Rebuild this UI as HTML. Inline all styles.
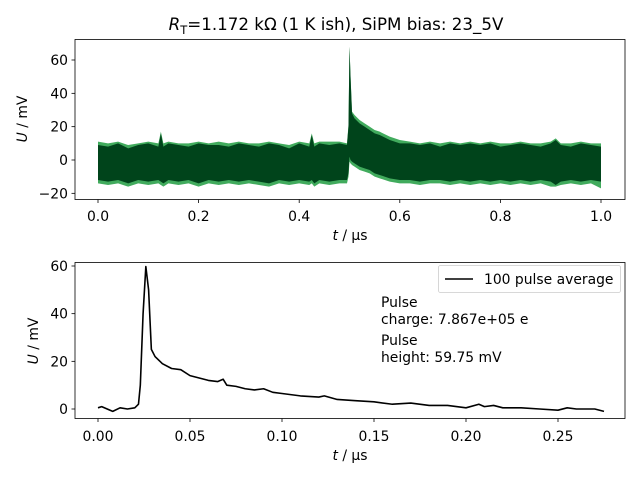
<!DOCTYPE html>
<html><head><meta charset="utf-8">
<style>
body{margin:0;background:#fff;}
svg{display:block;font-family:"DejaVu Sans","Liberation Sans",sans-serif;}
</style></head>
<body>
<svg id="c" width="640" height="480" viewBox="0 0 640 480">
<rect width="640" height="480" fill="#fff"/>
<text x="336" y="30" font-size="16.7" text-anchor="middle"><tspan font-style="italic">R</tspan><tspan font-size="11.5" dy="4">T</tspan><tspan dy="-4">=1.172 kΩ (1 K ish), SiPM bias: 23_5V</tspan></text>
<g id="topPanel"></g>
<g id="botPanel"></g>
</svg>
<script>
// top panel data (envelopes of overlaid traces)
const tTop=[0,0.02,0.04,0.06,0.08,0.1,0.12,0.125,0.13,0.14,0.16,0.18,0.2,0.22,0.24,0.26,0.28,0.3,0.32,0.34,0.36,0.38,0.4,0.42,0.425,0.43,0.44,0.46,0.48,0.495,0.498,0.5,0.502,0.505,0.51,0.52,0.53,0.54,0.55,0.56,0.58,0.6,0.62,0.64,0.66,0.68,0.7,0.72,0.74,0.76,0.78,0.8,0.82,0.84,0.86,0.88,0.9,0.91,0.92,0.94,0.96,0.98,1.0];
const upperTop=[9,8,10,7,9,10,8,16,8,10,9,8,10,9,9,8,10,9,8,10,9,7,10,8,15,8,10,9,10,9,20,68,50,28,25,22,20,18,16,15,12,10,10,9,10,8,10,9,10,9,10,8,9,10,9,8,10,12,9,8,10,9,8];
const lowerTop=[-12,-13,-12,-14,-12,-13,-12,-13,-14,-12,-13,-12,-14,-12,-13,-12,-13,-12,-13,-14,-12,-13,-12,-13,-12,-14,-12,-13,-12,-12,-8,2,0,-1,-2,-4,-5,-6,-8,-9,-11,-12,-12,-13,-12,-12,-13,-12,-13,-12,-13,-12,-13,-12,-13,-12,-13,-15,-13,-12,-13,-12,-13];
const lightUpperTop=[11,10,11,9,10,11,10,17,10,11,10,10,11,10,11,10,11,10,10,11,10,9,11,10,16,10,11,11,11,10,21,68,51,29,27,24,22,20,18,17,14,12,11,10,11,10,11,10,11,10,11,10,10,11,10,10,11,13,10,10,11,10,10];
const lightLowerTop=[-14,-15,-14,-16,-14,-15,-14,-15,-16,-14,-15,-14,-16,-14,-15,-14,-15,-14,-15,-16,-14,-15,-14,-15,-14,-16,-14,-15,-14,-14,-10,-1,-2,-3,-4,-6,-7,-8,-10,-11,-13,-14,-14,-15,-14,-14,-15,-14,-15,-14,-15,-14,-15,-14,-15,-14,-16,-16,-15,-14,-15,-14,-17];
const xTicksTop=[0,0.2,0.4,0.6,0.8,1.0];
const xTickLabelsTop=["0.0","0.2","0.4","0.6","0.8","1.0"];
const yTicksTop=[-20,0,20,40,60];
// bottom panel data
const tAvg=[0,0.002,0.005,0.008,0.012,0.016,0.02,0.022,0.023,0.0245,0.026,0.0275,0.029,0.031,0.035,0.04,0.045,0.05,0.055,0.06,0.065,0.068,0.07,0.075,0.08,0.085,0.09,0.095,0.1,0.11,0.12,0.123,0.13,0.14,0.15,0.16,0.17,0.18,0.19,0.2,0.207,0.21,0.215,0.22,0.23,0.24,0.25,0.255,0.26,0.27,0.275];
const uAvg=[0.5,1,0,-1,0.5,0,0.5,2,10,40,59.75,50,25,22,19,17,16.5,14,13,12,11.5,12.5,10,9.5,8.5,8,8.5,7,6.5,5.5,5,5.5,4,3.5,3,2,2.5,1.5,1.5,0.5,2,1,1.5,0.5,0.5,0,-0.5,0.5,0,0,-1];
const xTicksBot=[0,0.05,0.1,0.15,0.2,0.25];
const xTickLabelsBot=["0.00","0.05","0.10","0.15","0.20","0.25"];
const yTicksBot=[0,20,40,60];

const NS="http://www.w3.org/2000/svg";
const FS=13.9;
function mk(tag,attrs,parent){const e=document.createElementNS(NS,tag);for(const k in attrs)e.setAttribute(k,attrs[k]);parent.appendChild(e);return e;}

// top axes
const topG=document.getElementById('topPanel');
const xT=v=>98+v*503, yT=v=>160-v*(100/60);
function band(up,lo){
  let d='M'+tTop.map((tt,i)=>xT(tt)+','+yT(up[i])).join('L');
  for(let i=tTop.length-1;i>=0;i--)d+='L'+xT(tTop[i])+','+yT(lo[i]);
  return d+'Z';
}
let p=mk('path',{d:band(lightUpperTop,lightLowerTop),fill:'#41ab5d'},topG);


p=mk('path',{d:band(upperTop,lowerTop),fill:'#00441b'},topG);


mk('rect',{x:75,y:39.5,width:550,height:160,fill:'none',stroke:'#000','stroke-width':0.8},topG);
xTicksTop.forEach((v,i)=>{
  mk('line',{x1:xT(v),x2:xT(v),y1:199.5,y2:203,stroke:'#000','stroke-width':0.8},topG);
  const tx=mk('text',{x:xT(v),y:221,'font-size':FS,'text-anchor':'middle'},topG);tx.textContent=xTickLabelsTop[i];
  
  
});
yTicksTop.forEach(v=>{
  mk('line',{x1:71.5,x2:75,y1:yT(v),y2:yT(v),stroke:'#000','stroke-width':0.8},topG);
  const tx=mk('text',{x:68,y:yT(v)+5,'font-size':FS,'text-anchor':'end'},topG);tx.textContent=(v<0?'−'+(-v):v);
  
  
});
let lbl=mk('text',{x:350,y:240,'font-size':FS,'text-anchor':'middle'},topG);
lbl.innerHTML='<tspan font-style="italic">t</tspan> / µs';


lbl=mk('text',{x:0,y:0,'font-size':FS,'text-anchor':'middle',transform:'translate(27,119) rotate(-90)'},topG);
lbl.innerHTML='<tspan font-style="italic">U</tspan> / mV';



// bottom axes
const botG=document.getElementById('botPanel');
const xB=v=>98+v*(460/0.25), yB=v=>409-v*(143/60);
p=mk('polyline',{points:tAvg.map((tt,i)=>xB(tt)+','+yB(uAvg[i])).join(' '),fill:'none',stroke:'#000','stroke-width':1.6,'stroke-linejoin':'round'},botG);


mk('rect',{x:75,y:262.5,width:550,height:156,fill:'none',stroke:'#000','stroke-width':0.8},botG);
xTicksBot.forEach((v,i)=>{
  mk('line',{x1:xB(v),x2:xB(v),y1:418.5,y2:422,stroke:'#000','stroke-width':0.8},botG);
  const tx=mk('text',{x:xB(v),y:441,'font-size':FS,'text-anchor':'middle'},botG);tx.textContent=xTickLabelsBot[i];
  
  
});
yTicksBot.forEach(v=>{
  mk('line',{x1:71.5,x2:75,y1:yB(v),y2:yB(v),stroke:'#000','stroke-width':0.8},botG);
  const tx=mk('text',{x:68,y:yB(v)+5,'font-size':FS,'text-anchor':'end'},botG);tx.textContent=v;
  
  
});
lbl=mk('text',{x:350,y:460,'font-size':FS,'text-anchor':'middle'},botG);
lbl.innerHTML='<tspan font-style="italic">t</tspan> / µs';


lbl=mk('text',{x:0,y:0,'font-size':FS,'text-anchor':'middle',transform:'translate(38,341) rotate(-90)'},botG);
lbl.innerHTML='<tspan font-style="italic">U</tspan> / mV';


// legend
const lg=mk('g',{},botG);


mk('rect',{x:438.5,y:265.5,width:182,height:27,rx:2,fill:'#fff',stroke:'#ccc','stroke-width':0.8},lg);
mk('line',{x1:445,x2:473,y1:279,y2:279,stroke:'#000','stroke-width':1.6},lg);
lbl=mk('text',{x:484,y:284,'font-size':FS},lg);lbl.textContent='100 pulse average';
// annotations
[['Pulse',307],['charge: 7.867e+05 e',324],['Pulse',345],['height: 59.75 mV',362]].forEach(a=>{
  const tx=mk('text',{x:381,y:a[1],'font-size':FS},botG);tx.textContent=a[0];
  
  
});
</script>
</body></html>
